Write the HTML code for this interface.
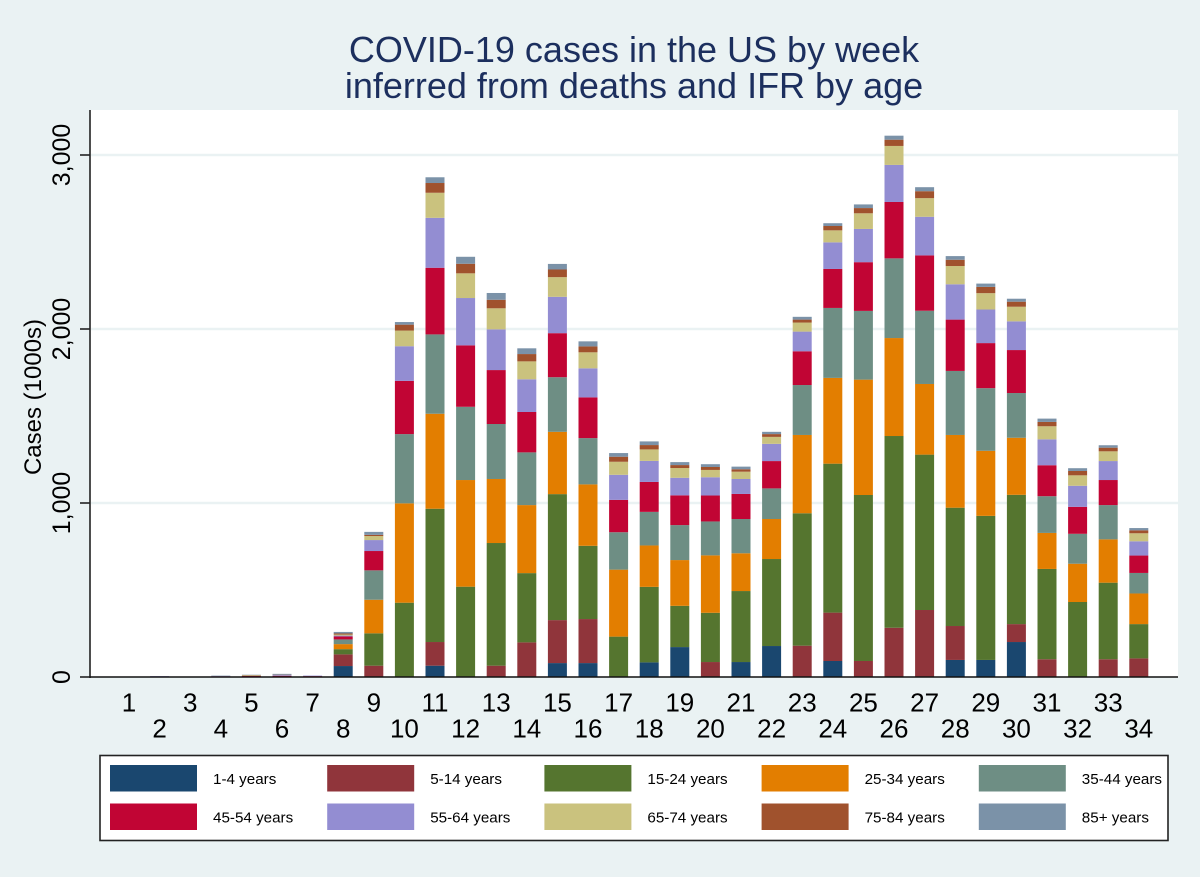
<!DOCTYPE html>
<html lang="en">
<head>
<meta charset="utf-8">
<title>COVID-19 cases in the US by week</title>
<style>
html,body{margin:0;padding:0;background:#eaf2f3;}
svg{display:block;font-family:"Liberation Sans",Arial,sans-serif;}
</style>
</head>
<body>
<svg id="chart" xmlns="http://www.w3.org/2000/svg" width="1200" height="877" viewBox="0 0 1200 877">
  <rect x="0" y="0" width="1200" height="877" fill="#eaf2f3"/>
  <text x="634" y="62" font-size="36" fill="#1c2f5e" text-anchor="middle">COVID-19 cases in the US by week</text>
  <text x="634" y="98" font-size="36" fill="#1c2f5e" text-anchor="middle">inferred from deaths and IFR by age</text>
  <rect x="90" y="110" width="1088" height="567" fill="#ffffff"/>
  <g id="grid"></g>
  <g id="bars"></g>
  <g id="axes">
    <line x1="90" y1="110" x2="90" y2="678" stroke="#222" stroke-width="1.6"/>
    <line x1="89" y1="677" x2="1178" y2="677" stroke="#111" stroke-width="1.6"/>
  </g>
  <text transform="translate(41,397) rotate(-90)" font-size="24" fill="#000" text-anchor="middle">Cases (1000s)</text>
  <g id="legend">
    <rect x="100" y="755.5" width="1068" height="85" fill="#ffffff" stroke="#222" stroke-width="1.6"/>
  </g>
</svg>
<script>
var weeks = [1,2,3,4,5,6,7,8,9,10,11,12,13,14,15,16,17,18,19,20,21,22,23,24,25,26,27,28,29,30,31,32,33,34];
var yTicks = [0,1000,2000,3000];
var yTickLabels = ["0","1,000","2,000","3,000"];
var seriesNames = ["1-4 years","5-14 years","15-24 years","25-34 years","35-44 years","45-54 years","55-64 years","65-74 years","75-84 years","85+ years"];
var seriesColors = ["#1a476f","#90353b","#55752f","#e37e00","#6e8e84","#c10534","#938dd2","#cac27e","#a0522d","#7b92a8"];
var age1to4   = [0,0,0,0,0,0,0,63,0,0,65,0,0,0,80,80,0,84,172,0,86,178,0,92,0,0,0,98,98,201,0,0,0,0];
var age5to14  = [0,0,0,0,0,0,0,67,65,0,136,0,65,199,247,253,0,0,0,86,0,0,180,278,92,283,385,195,0,103,102,0,102,107];
var age15to24 = [0,0,0,0,0,0,0,30,186,427,766,519,705,398,724,421,232,434,237,283,408,500,761,856,954,1102,893,680,828,743,519,431,440,197];
var age25to34 = [0,0,0,0,3,0,0,29,193,571,546,613,368,391,358,353,385,238,263,330,217,230,450,493,663,563,406,418,374,328,207,220,249,176];
var age35to44 = [0,0,0,2,0,3,0,27,169,398,456,421,316,303,314,266,215,193,201,195,197,176,287,402,395,458,421,368,360,257,211,172,197,118];
var age45to54 = [0,0,0,2,3,4,5,17,111,306,383,353,310,232,253,234,186,172,171,149,144,157,194,224,280,324,318,295,259,247,178,155,144,100];
var age55to64 = [0,5,0,2,0,4,3,5,63,199,287,272,234,188,209,167,144,121,101,105,86,99,113,153,191,213,222,203,193,165,149,121,109,82];
var age65to74 = [0,0,0,0,3,0,0,6,23,90,144,142,121,103,113,92,75,66,56,42,42,40,52,69,90,109,107,105,94,84,75,60,56,46];
var age75to84 = [0,0,0,0,2,2,0,6,7,34,56,55,49,42,44,34,29,25,17,17,14,16,17,25,30,36,40,36,36,29,25,25,21,17];
var age85plus = [0,0,0,2,2,5,0,9,17,15,33,40,39,33,32,29,21,21,17,16,15,13,16,16,21,23,23,21,19,17,19,16,14,13];
var seriesValues = [age1to4,age5to14,age15to24,age25to34,age35to44,age45to54,age55to64,age65to74,age75to84,age85plus];

var SVGNS = "http://www.w3.org/2000/svg";
var BAR_WIDTH = 19;
function xScale(week){ return 129 + (week - 1) * 30.6; }
function yScale(value){ return 677 - value * 0.174; }
function make(tag, attrs, parent, text){
  var el = document.createElementNS(SVGNS, tag);
  for (var k in attrs){ el.setAttribute(k, attrs[k]); }
  if (text !== undefined){ el.textContent = text; }
  parent.appendChild(el);
  return el;
}
var gridG = document.getElementById("grid");
var axesG = document.getElementById("axes");
var barsG = document.getElementById("bars");
var legendG = document.getElementById("legend");

yTicks.forEach(function(t, i){
  var y = yScale(t);
  if (t > 0){
    var g = make("line", {x1:91, x2:1178, y1:y, y2:y, stroke:"#eaf2f3", "stroke-width":2.4}, gridG);
    
    
  }
  var tk = make("line", {x1:80, x2:90, y1:y, y2:y, stroke:"#222", "stroke-width":1.6}, axesG);
  
  
  var lb = make("text", {transform:"translate(70," + y + ") rotate(-90)", "font-size":25, fill:"#000", "text-anchor":"middle"}, axesG, yTickLabels[i]);
  
  
});

weeks.forEach(function(w, i){
  var base = 0;
  seriesValues.forEach(function(vals, s){
    var v = vals[i];
    if (v > 0){
      var yTop = yScale(base + v);
      var r = make("rect", {x:xScale(w) - BAR_WIDTH / 2, y:yTop, width:BAR_WIDTH, height:yScale(base) - yTop, fill:seriesColors[s]}, barsG);
      
      
    }
    base += v;
  });
  var odd = w % 2 === 1;
  var t = make("text", {x:xScale(w), y:odd ? 711.5 : 737.5, "font-size":26, fill:"#000", "text-anchor":"middle"}, axesG, String(w));
  
  
});

seriesNames.forEach(function(name, i){
  var col = i % 5, row = Math.floor(i / 5);
  var kx = 110 + col * 217.2;
  var ky = row === 0 ? 765 : 803.5;
  var k = make("rect", {x:kx, y:ky, width:87, height:26.5, fill:seriesColors[i]}, legendG);
  
  
  var l = make("text", {x:kx + 103, y:ky + 19, "font-size":15.2, fill:"#000"}, legendG, name);
  
  
});
</script>
</body>
</html>
